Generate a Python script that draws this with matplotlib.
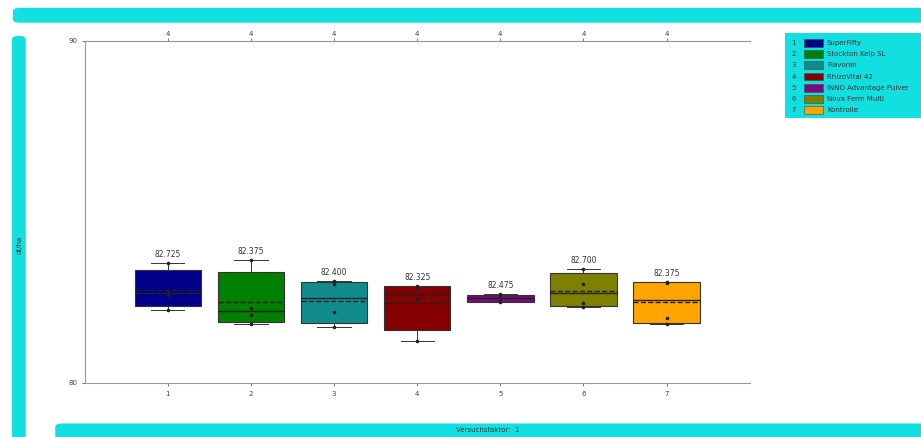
import matplotlib
matplotlib.use("Agg")
import matplotlib.pyplot as plt
from matplotlib.patches import FancyBboxPatch, Rectangle
import numpy as np

# Einzelwerte je Variante (4 Wiederholungen)
varianten = ["SuperFifty", "Stockton Kelp SL", "Flavonin", "RhizoVital 42",
             "INNO Advantage Pulver", "Nova Ferm Multi", "Kontrolle"]
v1 = [82.13, 82.57, 82.70, 83.50]
v2 = [81.72, 81.98, 82.20, 83.60]
v3 = [81.64, 82.08, 82.90, 82.98]
v4 = [81.23, 82.45, 82.78, 82.84]
v5 = [82.36, 82.40, 82.55, 82.59]
v6 = [82.22, 82.35, 82.90, 83.33]
v7 = [81.72, 81.90, 82.93, 82.95]
werte = [v1, v2, v3, v4, v5, v6, v7]
farben = ["#00008b", "#008000", "#108c8c", "#850000", "#7d0a7d", "#808000", "#ffa500"]
y_min, y_max = 80, 90
cyan = "#12e0e0"

fig = plt.figure(figsize=(9.21, 4.37), dpi=100)

# Rahmenbalken
for (x0, y0, w, h) in [(0.014, 0.948, 0.995, 0.034), (0.013, -0.05, 0.015, 0.968),
                       (0.060, -0.05, 0.950, 0.081)]:
    fig.patches.append(FancyBboxPatch((x0, y0), w, h, boxstyle="round,pad=0,rounding_size=0.008",
                                      transform=fig.transFigure, fc=cyan, ec="none"))
fig.text(0.021, 0.44, "dt/ha", rotation=90, fontsize=5, color="#333333", ha="center", va="center")
fig.text(0.53, 0.015, "Versuchsfaktor:  1", fontsize=5, color="#333333", ha="center", va="center")

ax = fig.add_axes([0.092, 0.1236, 0.722, 0.783])

stats = []
for i, v in enumerate(werte):
    v = np.array(v)
    q1, med, q3 = np.percentile(v, [25, 50, 75], method="weibull")
    stats.append(dict(med=med, q1=q1, q3=q3, whislo=v.min(), whishi=v.max(),
                      mean=v.mean(), fliers=[], label=str(i + 1)))

pos = np.arange(1, len(werte) + 1)
bp = ax.bxp(stats, positions=pos, widths=0.8, patch_artist=True, showmeans=True, meanline=True,
            boxprops=dict(edgecolor="#333333", linewidth=0.8),
            medianprops=dict(color="#222222", linewidth=1.0),
            meanprops=dict(color="#222222", linestyle="--", linewidth=1.0),
            whiskerprops=dict(color="#333333", linewidth=0.7),
            capprops=dict(color="#333333", linewidth=0.7), capwidths=0.4)
for box, c in zip(bp["boxes"], farben):
    box.set_facecolor(c)

for p, v, s in zip(pos, werte, stats):
    ax.plot([p] * len(v), v, "o", ms=1.6, color="#222222", zorder=4)
    ax.annotate(f"{s['mean']:.3f}", (p, s["whishi"]), xytext=(0, 3), textcoords="offset points",
                ha="center", va="bottom", fontsize=5.5, color="#333333")

ax.set_xlim(0, 8)
ax.set_ylim(y_min, y_max)
ax.set_yticks([y_min, y_max])
ax.set_xticks(pos)
ax.tick_params(labelsize=5, colors="#444444", length=2, width=0.5)
for sp in ax.spines.values():
    sp.set_color("#999999")
    sp.set_linewidth(0.8)
ax.spines["right"].set_visible(False)

# Anzahl Werte je Variante oben
top = ax.twiny()
top.set_xlim(ax.get_xlim())
top.set_xticks(pos)
top.set_xticklabels([str(len(v)) for v in werte])
top.tick_params(labelsize=5, colors="#444444", length=2, width=0.5, pad=1)
for sp in top.spines.values():
    sp.set_visible(False)
top.spines["top"].set_visible(True)
top.spines["top"].set_color("#999999")

# Legende: Nummer, Farbfeld, Name
lax = fig.add_axes([0.852, 0.730, 0.148, 0.195])
lax.set_xlim(0, 1)
lax.set_ylim(len(varianten) + 0.2, -0.4)
lax.axis("off")
lax.add_patch(Rectangle((0, 0), 1, 1, transform=lax.transAxes, fc=cyan, ec="none"))
for i, (n, c) in enumerate(zip(varianten, farben)):
    lax.text(0.05, i + 0.5, str(i + 1), fontsize=5, color="#333333", ha="left", va="center")
    lax.add_patch(Rectangle((0.14, i + 0.15), 0.14, 0.7, fc=c, ec="#444444", lw=0.4))
    lax.text(0.31, i + 0.5, n, fontsize=5, color="#333333", ha="left", va="center")

fig.savefig("out.png", dpi=100)
